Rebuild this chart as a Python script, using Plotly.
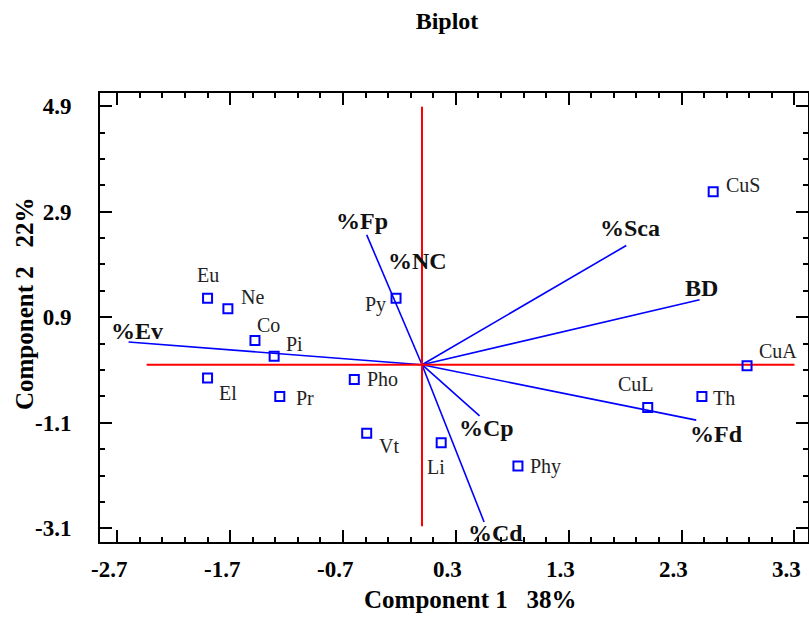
import plotly.graph_objects as go

# ---- data ----
obs_names = ["Eu", "Ne", "Co", "Pi", "El", "Pr", "Pho", "Py", "Vt", "Li", "Phy", "CuS", "CuA", "CuL", "Th"]
obs_x = [-1.90, -1.72, -1.48, -1.31, -1.90, -1.26, -0.60, -0.23, -0.49, 0.17, 0.85, 2.58, 2.88, 2.00, 2.48]
obs_y = [1.26, 1.06, 0.46, 0.16, -0.25, -0.60, -0.28, 1.26, -1.30, -1.48, -1.92, 3.28, -0.02, -0.81, -0.60]

var_names = ["%Ev", "%Fp", "%NC", "%Sca", "BD", "%Fd", "%Cp", "%Cd"]
var_x = [-2.60, -0.49, 0.0, 1.81, 2.46, 2.43, 0.51, 0.55]
var_y = [0.43, 2.46, 1.75, 2.26, 1.23, -1.05, -0.97, -2.98]

ref_h_x = [-2.44, 3.30]
ref_v_y = [-3.06, 4.89]

x_ticks = [-2.7, -1.7, -0.7, 0.3, 1.3, 2.3, 3.3]
x_ticklabels = ["-2.7", "-1.7", "-0.7", "0.3", "1.3", "2.3", "3.3"]
y_ticks = [4.9, 2.9, 0.9, -1.1, -3.1]
y_ticklabels = ["4.9", "2.9", "0.9", "-1.1", "-3.1"]

# ---- label offsets (pixels, screen: +x right, +y down) ----
obs_off = {"Eu": (0, -23), "Ne": (25, -12), "Co": (14, -15), "Pi": (20, -12), "El": (20, 15),
           "Pr": (25, 2), "Pho": (28, 0), "Py": (-21, 6), "Vt": (22, 13), "Li": (-5, 24),
           "Phy": (28, 0), "CuS": (30, -7), "CuA": (31, -15), "CuL": (-12, -23), "Th": (22, 2)}
var_off = {"%Ev": (8, -11), "%Fp": (-5, -14), "%NC": (-5, -11), "%Sca": (4, -17), "BD": (2, -12),
           "%Fd": (20, 14), "%Cp": (7, 12), "%Cd": (11, 11)}

SERIF = "Liberation Serif, Times New Roman, serif"

fig = go.Figure()

# vectors
vx, vy = [], []
for x, y in zip(var_x, var_y):
    vx += [0, x, None]
    vy += [0, y, None]
fig.add_trace(go.Scatter(x=vx, y=vy, mode="lines", line=dict(color="#0000FF", width=1.6),
                         hoverinfo="skip", showlegend=False))

# red reference lines
fig.add_trace(go.Scatter(x=ref_h_x, y=[0, 0], mode="lines", line=dict(color="#FF0000", width=2),
                         hoverinfo="skip", showlegend=False))
fig.add_trace(go.Scatter(x=[0, 0], y=ref_v_y, mode="lines", line=dict(color="#FF0000", width=2),
                         hoverinfo="skip", showlegend=False))

# observations
fig.add_trace(go.Scatter(x=obs_x, y=obs_y, mode="markers",
                         marker=dict(symbol="square-open", size=9, color="#0000FF", line=dict(width=2, color="#0000FF")),
                         text=obs_names, showlegend=False))

annotations = []
for n, x, y in zip(obs_names, obs_x, obs_y):
    dx, dy = obs_off[n]
    annotations.append(dict(x=x, y=y, xref="x", yref="y", text=n, showarrow=False,
                            xanchor="center", yanchor="middle", xshift=dx, yshift=-dy,
                            font=dict(family=SERIF, size=20, color="#222222")))
for n, x, y in zip(var_names, var_x, var_y):
    dx, dy = var_off[n]
    annotations.append(dict(x=x, y=y, xref="x", yref="y", text="<b>%s</b>" % n, showarrow=False,
                            xanchor="center", yanchor="middle", xshift=dx, yshift=-dy,
                            font=dict(family=SERIF, size=24, color="#111111")))

# x tick labels (placed slightly left of the ticks, as in the reference)
for v, t in zip(x_ticks, x_ticklabels):
    annotations.append(dict(x=v, y=0, xref="x", yref="paper", text="<b>%s</b>" % t, showarrow=False,
                            xanchor="center", yanchor="middle", xshift=-8, yshift=-27,
                            font=dict(family=SERIF, size=23, color="black")))

annotations.append(dict(x=0.524, y=-0.129, xref="paper", yref="paper", text="<b>Component 1   38%</b>",
                        showarrow=False, xanchor="center", yanchor="middle",
                        font=dict(family=SERIF, size=25, color="black")))
annotations.append(dict(x=-0.1073, y=0.530, xref="paper", yref="paper", text="<b>Component 2   22%</b>",
                        showarrow=False, xanchor="center", yanchor="middle", textangle=-90,
                        font=dict(family=SERIF, size=25, color="black")))

axis_common = dict(showline=True, linewidth=2, linecolor="black", mirror="allticks",
                   ticks="inside", ticklen=12, tickwidth=2, tickcolor="black",
                   showgrid=False, zeroline=False, automargin=False,
                   tickfont=dict(family=SERIF, size=23, color="black", weight="bold"))

fig.update_layout(
    template="none",
    width=809, height=617,
    margin=dict(l=100, r=1, t=93, b=75, autoexpand=False),
    paper_bgcolor="white", plot_bgcolor="white",
    title=dict(text="<b>Biplot</b>", x=0.5525, xanchor="center", y=0.967, yanchor="middle", yref="container",
               font=dict(family=SERIF, size=24, color="black")),
    xaxis=dict(range=[-2.853, 3.42], tickvals=x_ticks, showticklabels=False,
               minor=dict(dtick=0.2, tick0=-2.7, ticks="inside", ticklen=5, tickwidth=1.5, tickcolor="black"),
               **axis_common),
    yaxis=dict(range=[-3.36, 5.15], tickvals=y_ticks, ticktext=y_ticklabels,
               minor=dict(dtick=0.5, tick0=0.9, ticks="inside", ticklen=5, tickwidth=1.5, tickcolor="black"),
               ticklabelstandoff=22, **axis_common),
    annotations=annotations,
)

fig.write_html("out.html", config={"displayModeBar": False},
               post_script="document.body.style.margin='0';document.body.style.padding='0';document.body.style.overflow='hidden';")
